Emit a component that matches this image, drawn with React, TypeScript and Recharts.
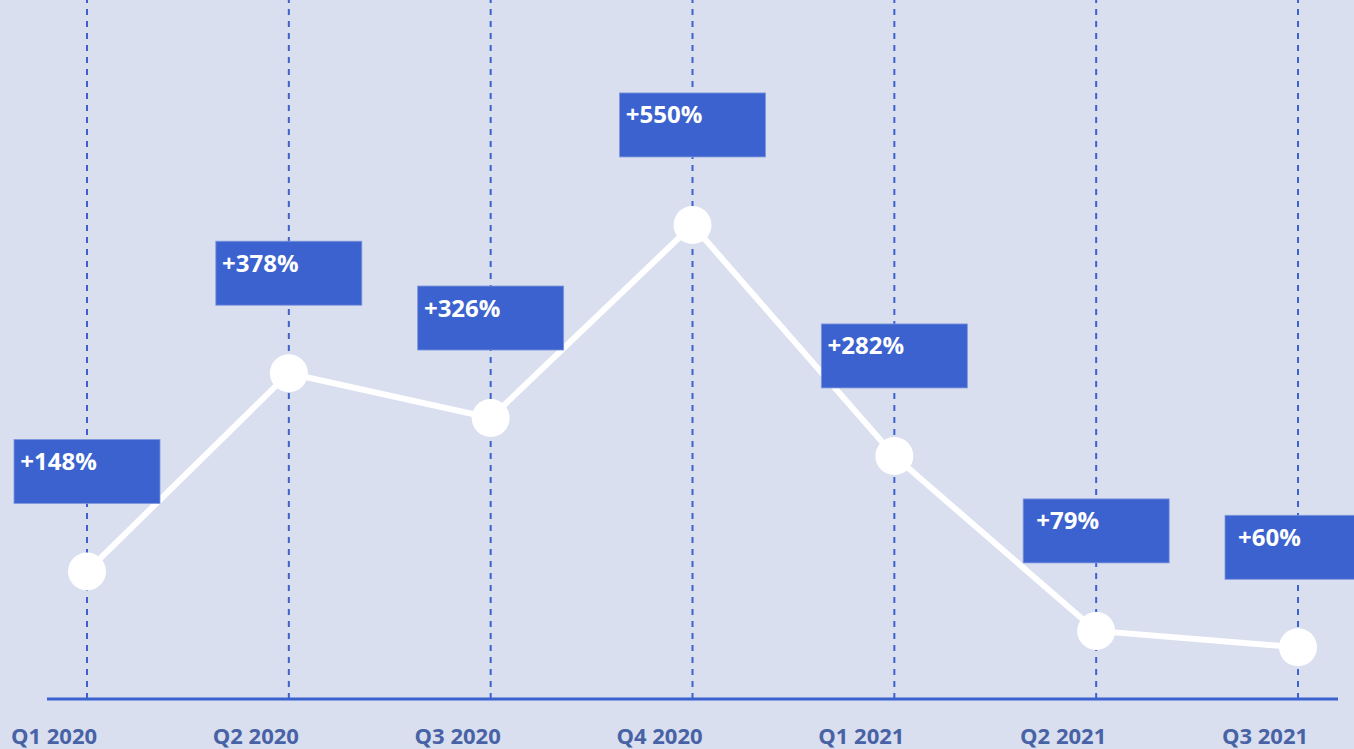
import { LabelList, Line, LineChart, ReferenceLine, XAxis, YAxis } from "recharts";

const QUARTERS = ["Q1 2020", "Q2 2020", "Q3 2020", "Q4 2020", "Q1 2021", "Q2 2021", "Q3 2021"];
const GROWTH = [148, 378, 326, 550, 282, 79, 60];

const BG = "#D9DFEF";
const BLUE = "#3B62CE";
const FONT = "'Open Sans', 'Noto Sans', sans-serif";

const rows = QUARTERS.map((q, i) => ({ q, v: GROWTH[i] }));

// label box sits above each point; text centred a bit left of the box middle
function BoxLabel(props: any) {
  const { x, y, value } = props;
  if (x == null || y == null) return null;
  const bx = x - 73;
  const by = y - 132;
  return (
    <g>
      <rect x={bx} y={by} width={146} height={64} fill={BLUE} stroke="#7F97DD" strokeWidth={0.8} />
      <text
        x={bx + 44.5}
        y={by + 30.5}
        textAnchor="middle"
        fill="#fff"
        fontFamily={FONT}
        fontWeight={700}
        fontSize={24}
      >
        {`+${value}%`}
      </text>
    </g>
  );
}

function QuarterTick(props: any) {
  const { x, payload } = props;
  return (
    <text x={x - 33} y={744} textAnchor="middle" fill="#4862A6" fontFamily={FONT} fontWeight={700} fontSize={22}>
      {payload.value}
    </text>
  );
}

export default function App() {
  return (
    <div style={{ position: "absolute", left: 0, top: 0, width: 1354, height: 749, background: BG }}>
      <LineChart width={1354} height={749} data={rows} margin={{ top: 0, right: 16, bottom: 0, left: 47 }}>
        {/* dashed guide at each quarter */}
        {QUARTERS.map((q) => (
          <ReferenceLine key={q} x={q} stroke={BLUE} strokeDasharray="6 6" strokeWidth={2} />
        ))}
        <XAxis
          dataKey="q"
          height={50}
          padding={{ left: 40, right: 40 }}
          axisLine={{ stroke: BLUE, strokeWidth: 3 }}
          tickLine={false}
          tick={<QuarterTick />}
          interval={0}
        />
        <YAxis hide domain={[0, 811]} />
        <Line
          dataKey="v"
          stroke="#fff"
          strokeWidth={6}
          dot={{ r: 19, fill: "#fff", stroke: "none" }}
          activeDot={false}
          isAnimationActive={false}
        >
          <LabelList dataKey="v" content={<BoxLabel />} />
        </Line>
      </LineChart>
    </div>
  );
}
